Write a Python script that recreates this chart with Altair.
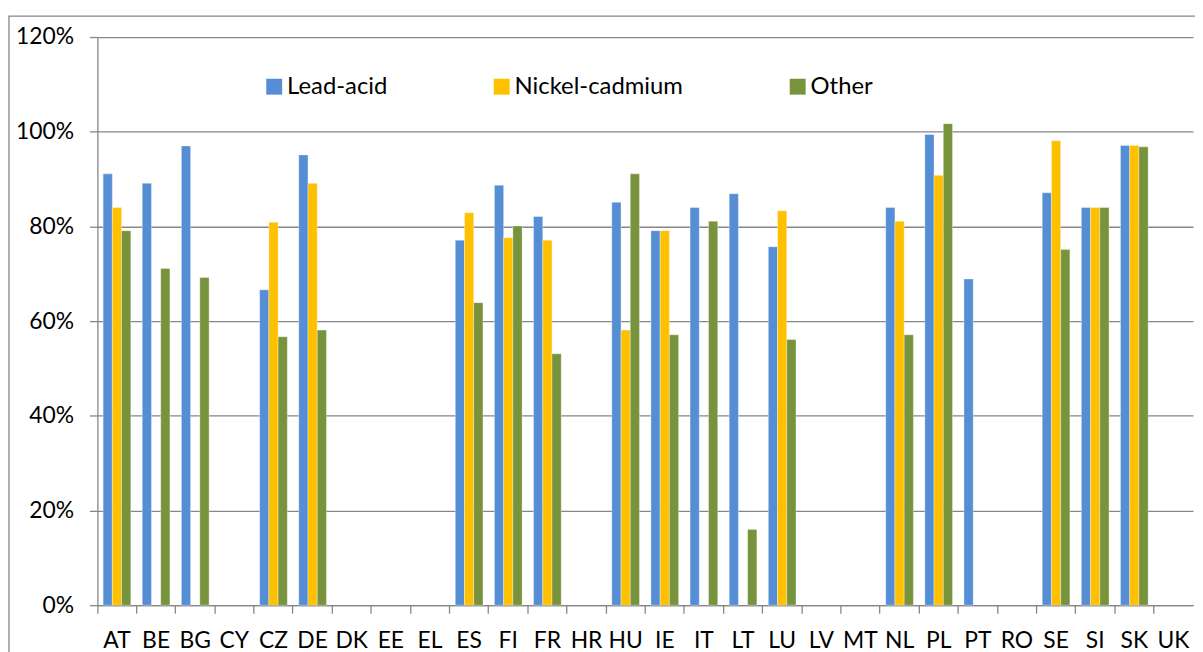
import altair as alt
import pandas as pd

countries = ["AT", "BE", "BG", "CY", "CZ", "DE", "DK", "EE", "EL", "ES", "FI", "FR", "HR", "HU",
             "IE", "IT", "LT", "LU", "LV", "MT", "NL", "PL", "PT", "RO", "SE", "SI", "SK", "UK"]
series = ["Lead-acid", "Nickel-cadmium", "Other"]
colors = ["#558ED5", "#FFC000", "#77933C"]

lead_acid = [91.1, 89.1, 97.0, None, 66.6, 95.1, None, None, None, 77.1, 88.7, 82.1, None, 85.1,
             79.1, 84.0, 86.9, 75.7, None, None, 84.0, 99.4, 68.9, None, 87.1, 84.0, 97.1, None]
nickel_cadmium = [84.0, None, None, None, 80.9, 89.1, None, None, None, 82.9, 77.6, 77.1, None, 58.1,
                  79.1, None, None, 83.3, None, None, 81.1, 90.8, None, None, 98.1, 84.0, 97.1, None]
other = [79.1, 71.1, 69.2, None, 56.7, 58.1, None, None, None, 63.9, 80.1, 53.1, None, 91.1,
         57.1, 81.1, 16.0, 56.1, None, None, 57.1, 101.7, None, None, 75.1, 84.0, 96.8, None]
y_ticks = [0, 20, 40, 60, 80, 100, 120]

rows = []
for name, vals in zip(series, [lead_acid, nickel_cadmium, other]):
    for c, v in zip(countries, vals):
        if v is not None:
            rows.append({"country": c, "series": name, "value": v})
df = pd.DataFrame(rows)

FONT = "Lato"
GRID = "#868686"
W = 1103
H = 572

bars = alt.Chart(df).mark_bar(stroke="white", strokeWidth=0.5, strokeOpacity=0.7).encode(
    x=alt.X("country:N", sort=countries,
            scale=alt.Scale(domain=countries, paddingInner=0, paddingOuter=0),
            axis=alt.Axis(title=None, labelAngle=0, bandPosition=0,
                          tickSize=8, tickColor=GRID, tickWidth=1.3, domainColor=GRID,
                          domainWidth=1.3, labelFont=FONT, labelFontSize=23, labelColor="#000000",
                          labelPadding=17, labelOverlap=False, grid=False)),
    xOffset=alt.XOffset("series:N", sort=series,
                        scale=alt.Scale(domain=series, paddingInner=0, paddingOuter=0.62)),
    y=alt.Y("value:Q", scale=alt.Scale(domain=[0, 120], nice=False),
            axis=alt.Axis(title=None, values=y_ticks, labelExpr="datum.value + '%'",
                          grid=True, gridColor=GRID, gridWidth=1.3, tickSize=8, tickColor=GRID,
                          tickWidth=1.3, domainColor=GRID, domainWidth=1.3, labelFont=FONT,
                          labelFontSize=23, labelColor="#000000", labelPadding=16)),
    color=alt.Color("series:N", sort=series, scale=alt.Scale(domain=series, range=colors),
                    legend=alt.Legend(title=None, orient="none", legendX=166, legendY=38,
                                      direction="horizontal", columns=3, symbolType="square",
                                      symbolSize=256, symbolStrokeWidth=0, labelFont=FONT,
                                      labelFontSize=24, labelColor="#000000", labelOffset=1,
                                      labelLimit=400, columnPadding=103)),
)

border = alt.Chart(pd.DataFrame({"a": [0]})).mark_rect(
    fill=None, stroke=GRID, strokeWidth=1.3, clip=False
).encode(
    x=alt.value(-89), x2=alt.value(W + 20), y=alt.value(-21), y2=alt.value(H + 200)
)

chart = alt.layer(border, bars).properties(
    width=W, height=H,
    autosize=alt.AutoSizeParams(type="none"),
    padding={"left": 90, "top": 27, "right": 2, "bottom": 60},
    background="white",
).configure_view(stroke=None)

chart.save("out.html", embed_options={"renderer": "svg", "actions": False})
